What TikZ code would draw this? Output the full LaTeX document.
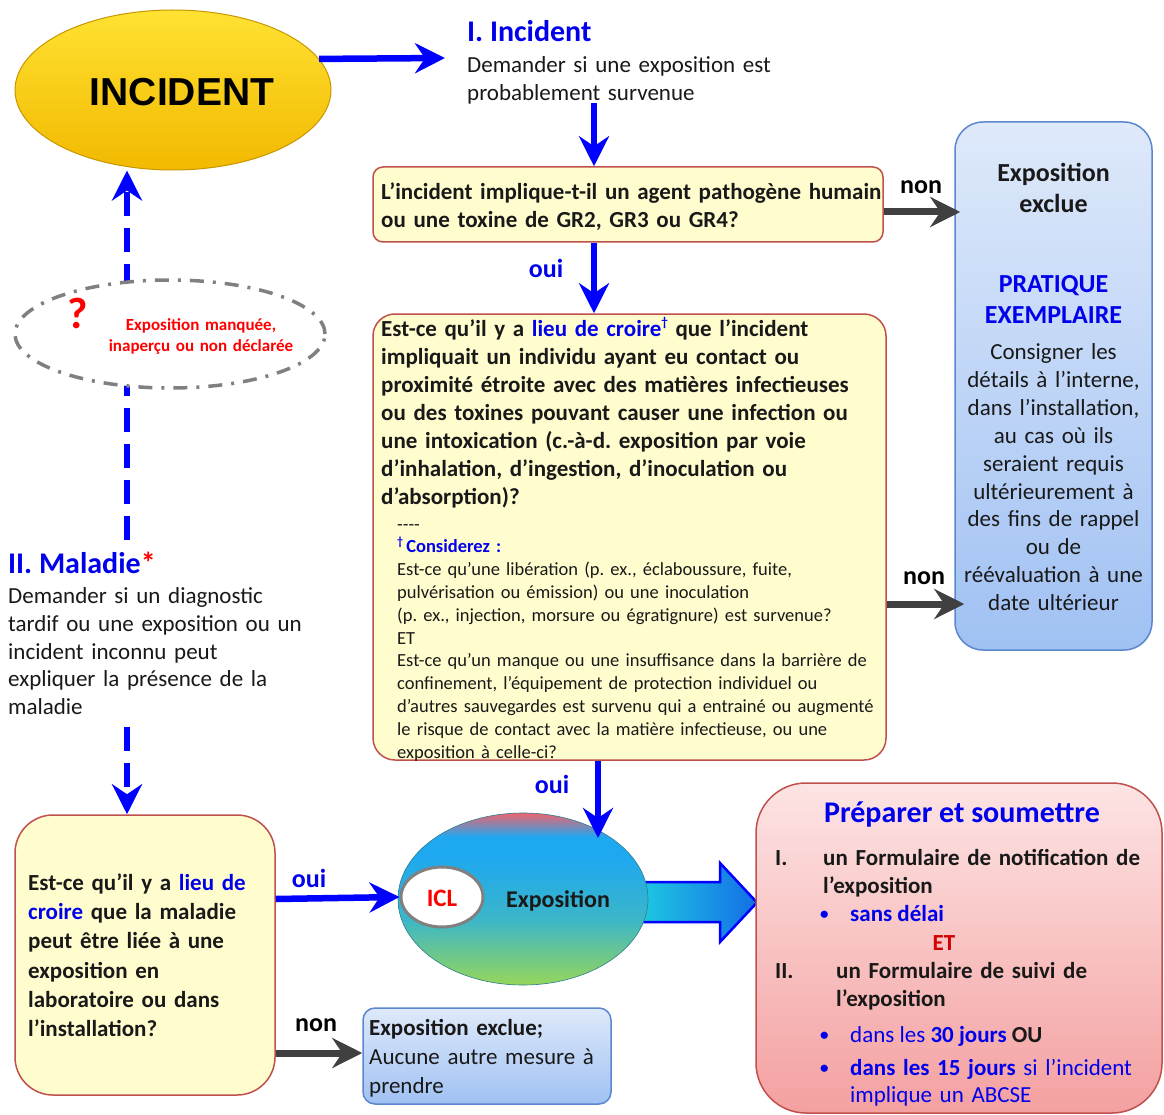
\documentclass[tikz,border=0pt]{standalone}
\usepackage{fontspec}
\setmainfont{Carlito}
\newfontfamily\arialfont{Liberation Sans}
\usetikzlibrary{arrows.meta,shapes.geometric}
\frenchspacing
\definecolor{tblue}{RGB}{0,0,235}
\definecolor{abl}{RGB}{0,0,255}
\definecolor{tred}{RGB}{255,0,0}
\definecolor{dred}{RGB}{210,0,0}
\definecolor{bord}{RGB}{192,80,77}
\definecolor{ylw}{RGB}{255,253,206}
\definecolor{agray}{RGB}{64,64,64}
\definecolor{txt}{RGB}{25,25,25}
\definecolor{bluT}{RGB}{222,233,250}
\definecolor{bluB}{RGB}{160,193,243}
\definecolor{bluD}{RGB}{90,135,205}
\definecolor{pnkT}{RGB}{253,228,228}
\definecolor{pnkB}{RGB}{244,160,160}
\definecolor{goldT}{RGB}{255,226,50}
\definecolor{goldB}{RGB}{242,185,0}
\definecolor{goldD}{RGB}{200,150,0}
\definecolor{expgreen}{RGB}{150,214,90}
\definecolor{expteal}{RGB}{60,182,200}
\definecolor{expblue}{RGB}{30,168,240}
\definecolor{expred}{RGB}{238,100,112}
\definecolor{arC}{RGB}{30,200,225}
\definecolor{arB}{RGB}{20,110,230}
\pgfdeclareverticalshading{exposh}{100bp}{color(0bp)=(expgreen); color(25bp)=(expgreen); color(44bp)=(expteal); color(62bp)=(expblue); color(68bp)=(expblue); color(75bp)=(expred); color(100bp)=(expred)}
\newcommand\fs[2]{\fontsize{#1}{#2}\selectfont\frenchspacing}
\tikzset{
  barrow/.style={draw=abl, line width=6.5pt, -{Stealth[length=30pt,width=30pt,inset=10pt]}},
  garrow/.style={draw=agray, line width=7pt, -{Stealth[length=30pt,width=30pt,inset=10pt]}},
  darrow/.style={barrow, dash pattern=on 24pt off 12pt},
  ybox/.style={draw=bord, line width=1.5pt, fill=ylw, rounded corners=#1, inner sep=0pt},
  ybox/.default=12pt,
  bbox/.style={draw=bluD, line width=1.5pt, top color=bluT, bottom color=bluB, rounded corners=#1, inner sep=0pt},
  bbox/.default=12pt,
  tl/.style={inner sep=0pt, anchor=base west, align=left, text=txt},
  tc/.style={inner sep=0pt, anchor=base, align=center, text=txt},
  lbl/.style={inner sep=0pt, font=\fs{26}{30}\bfseries},
  bul/.style={inner sep=0pt, anchor=base west, text=tblue, font=\fs{17}{20}\bfseries},
}
\begin{document}
\begin{tikzpicture}[x=1pt,y=-1pt]
\useasboundingbox (0,0) rectangle (1164,1115);
\fill[white] (0,0) rectangle (1164,1115);

% ---------- INCIDENT ----------
\node[ellipse, draw=goldD, line width=1pt, top color=goldT, bottom color=goldB,
      minimum width=316pt, minimum height=160pt, inner sep=0pt] (inc) at (173,90) {};
\node[inner sep=0pt] (inct) at (182,92) {\arialfont\bfseries\fs{39}{42}INCIDENT};

\coordinate (t1) at (445,58);
\draw[barrow] (inc.12) -- (t1);

\node[tl, text=tblue, font=\fs{30}{34}\bfseries] (ti) at (467,42) {I. Incident};
\node[tl, text width=330pt, font=\fs{23}{28}] (tid) at (467,72.5) {Demander si une exposition est\\probablement survenue};

% ---------- question 1 ----------
\node[ybox=10pt, minimum width=510pt, minimum height=75pt] (q1) at (628,204.5) {};
\node[tl, text width=505pt, font=\fs{23}{28}\bfseries] (q1t) at (381,199.5)
  {L’incident implique-t-il un agent pathogène humain\\ou une toxine de GR2, GR3 ou GR4?};
\coordinate (d1) at (594,103);
\draw[barrow] (d1) -- (d1 |- q1.north);

% ---------- right exclusion box ----------
\node[bbox=28pt, minimum width=197pt, minimum height=528pt] (excl) at (1053.5,386) {};
\node[tc, text width=196pt, font=\fs{26}{31}\bfseries] (ex1) at (1053.5,182) {Exposition\\exclue};
\node[tc, text width=196pt, text=tblue, font=\fs{26}{31}\bfseries] (ex2) at (1053.5,292) {PRATIQUE\\EXEMPLAIRE};
\node[tc, text width=196pt, font=\fs{23}{27.9}] (ex3) at (1053.5,359.5)
  {Consigner les\\détails à l’interne,\\dans l’installation,\\au cas où ils\\seraient requis\\ultérieurement à\\des fins de rappel\\ou de\\réévaluation à une\\date ultérieur};

\node[lbl] (non1) at (921,187) {non};
\draw[garrow, shorten >=-6pt] (q1.east |- 0,212) -- (excl.west |- 0,212);

% ---------- question 2 ----------
\node[ybox=22pt, minimum width=513pt, minimum height=446pt] (q2) at (629.5,537) {};
\node[lbl, text=tblue] (oui1) at (546,268) {oui};
\draw[barrow] (q1.south -| 594,0) -- (q2.north -| 594,0);
\node[tl, text width=505pt, font=\fs{23}{28}\bfseries] (q2t) at (381,336.5)
  {Est-ce qu’il y a {\color{tblue}lieu de croire\raisebox{0.45em}{\fs{13}{13}†}} que l’incident\\
   impliquait un individu ayant eu contact ou\\
   proximité étroite avec des matières infectieuses\\
   ou des toxines pouvant causer une infection ou\\
   une intoxication (c.-à-d. exposition par voie\\
   d’inhalation, d’ingestion, d’inoculation ou\\
   d’absorption)?};
\node[tl, text width=485pt, font=\fs{18.5}{22.8}] (q2s) at (397,530)
  {-{}-{}-{}-\\
   {\color{tblue}\bfseries\raisebox{0.4em}{\fs{12}{12}†}\,Considerez :}\\
   Est-ce qu’une libération (p. ex., éclaboussure, fuite,\\
   pulvérisation ou émission) ou une inoculation\\
   (p. ex., injection, morsure ou égratignure) est survenue?\\
   ET\\
   Est-ce qu’un manque ou une insuffisance dans la barrière de\\
   confinement, l’équipement de protection individuel ou\\
   d’autres sauvegardes est survenu qui a entrainé ou augmenté\\
   le risque de contact avec la matière infectieuse, ou une\\
   exposition à celle-ci?};

\node[lbl] (non2) at (924,578) {non};
\draw[garrow, shorten >=-10pt] (q2.east |- 0,604) -- (excl.west |- 0,604);

% ---------- exposition ellipse ----------
\draw[left color=arC, right color=arB, draw=abl, line width=2.5pt, line join=miter]
  (640,882) -- (720,882) -- (720,863) -- (757,902.5) -- (720,942) -- (720,922) -- (640,922) -- cycle;
\node[ellipse, shading=exposh, draw=expteal!70!black, line width=0.6pt,
      minimum width=250pt, minimum height=172pt, inner sep=0pt] (expo) at (523,899) {};
\node[inner sep=0pt, font=\fs{24}{28}\bfseries, text=txt] (expot) at (558,901) {Exposition};
\node[ellipse, draw=gray, line width=3pt, fill=white, minimum width=82pt, minimum height=60pt, inner sep=0pt] (icl) at (442,897) {};
\node[inner sep=0pt, font=\fs{25}{28}\bfseries, text=tred] (iclt) at (442,898) {ICL};

\node[lbl, text=tblue] (oui2) at (552,784) {oui};
\coordinate (d2) at (598,838);
\draw[barrow] (q2.south -| d2) -- (d2);

% ---------- preparer box ----------
\node[draw=bord, line width=1.5pt, top color=pnkT, bottom color=pnkB, rounded corners=50pt,
      minimum width=406pt, minimum height=330pt, inner sep=0pt] (prep) at (959,948) {};
\node[tc, text=tblue, font=\fs{30}{34}\bfseries] (prept) at (962,822) {Préparer et soumettre};
\node[tl, font=\fs{23}{28}\bfseries] (r1) at (775,865.5) {I.};
\node[tl, text width=330pt, font=\fs{23}{28}\bfseries] (r1t) at (823,865.5) {un Formulaire de notification de\\l’exposition};
\node[bul] (b1) at (820,919.5) {•};
\node[tl, text=tblue, font=\fs{23}{28}\bfseries] (b1t) at (850,921.5) {sans délai};
\node[tc, text=dred, font=\fs{23}{28}\bfseries] (et) at (944,950) {ET};
\node[tl, font=\fs{23}{28}\bfseries] (r2) at (775,978.5) {II.};
\node[tl, text width=320pt, font=\fs{23}{28}\bfseries] (r2t) at (836,978.5) {un Formulaire de suivi de\\l’exposition};
\node[bul] (b2) at (820,1040.5) {•};
\node[tl, text=tblue, font=\fs{23}{28}] (b2t) at (850,1042.5) {dans les \textbf{30 jours} {\color{txt}\bfseries OU}};
\node[bul] (b3) at (820,1073.5) {•};
\node[tl, text width=310pt, text=tblue, font=\fs{23}{27}] (b3t) at (850,1075.5) {\textbf{dans les 15 jours} si l’incident\\implique un ABCSE};

% ---------- left side ----------
\coordinate (m1) at (127,540);
\draw[darrow] (m1) -- (inc.south -| m1);
\node[ellipse, draw=gray, fill=white, line width=3.5pt, dash pattern=on 14pt off 9pt on 3pt off 9pt,
      minimum width=310pt, minimum height=108pt, inner sep=0pt] (miss) at (170,334) {};
\node[inner sep=0pt, text=tred, font=\fs{44}{44}\bfseries] (qm) at (78,313) {?};
\node[tc, text=tred, text width=220pt, font=\fs{17}{21}\bfseries] (misst) at (201,330.5)
  {Exposition manquée,\\inaperçu ou non déclarée};

\node[tl, font=\fs{30}{34}\bfseries] (mt) at (8,573) {\color{tblue}II. Maladie{\color{tred}*}};
\node[tl, text width=320pt, font=\fs{23}{27.8}] (mtd) at (8,603.5)
  {Demander si un diagnostic\\tardif ou une exposition ou un\\incident inconnu peut\\expliquer la présence de la\\maladie};

\coordinate (m2) at (127,727);
\node[ybox=38pt, minimum width=260pt, minimum height=280pt] (q3) at (145,955) {};
\draw[darrow] (m2) -- (q3.north -| m2);
\node[tl, text width=250pt, font=\fs{23}{29.2}\bfseries] (q3t) at (28,890.5)
  {Est-ce qu’il y a {\color{tblue}lieu de}\\{\color{tblue}croire} que la maladie\\peut être liée à une\\exposition en\\laboratoire ou dans\\l’installation?};

\node[lbl, text=tblue] (oui3) at (309,878) {oui};
\draw[barrow] (q3.east |- 0,899) -- (icl.west);

\node[bbox=12pt, minimum width=248pt, minimum height=96pt] (excl2) at (487,1056) {};
\node[lbl] (non3) at (316,1025) {non};
\draw[garrow] (q3.east |- 0,1053) -- (excl2.west |- 0,1053);
\node[tl, text width=240pt, font=\fs{23}{29}] (excl2t) at (369,1035.5)
  {\textbf{Exposition exclue;}\\Aucune autre mesure à\\prendre};

\end{tikzpicture}
\end{document}
